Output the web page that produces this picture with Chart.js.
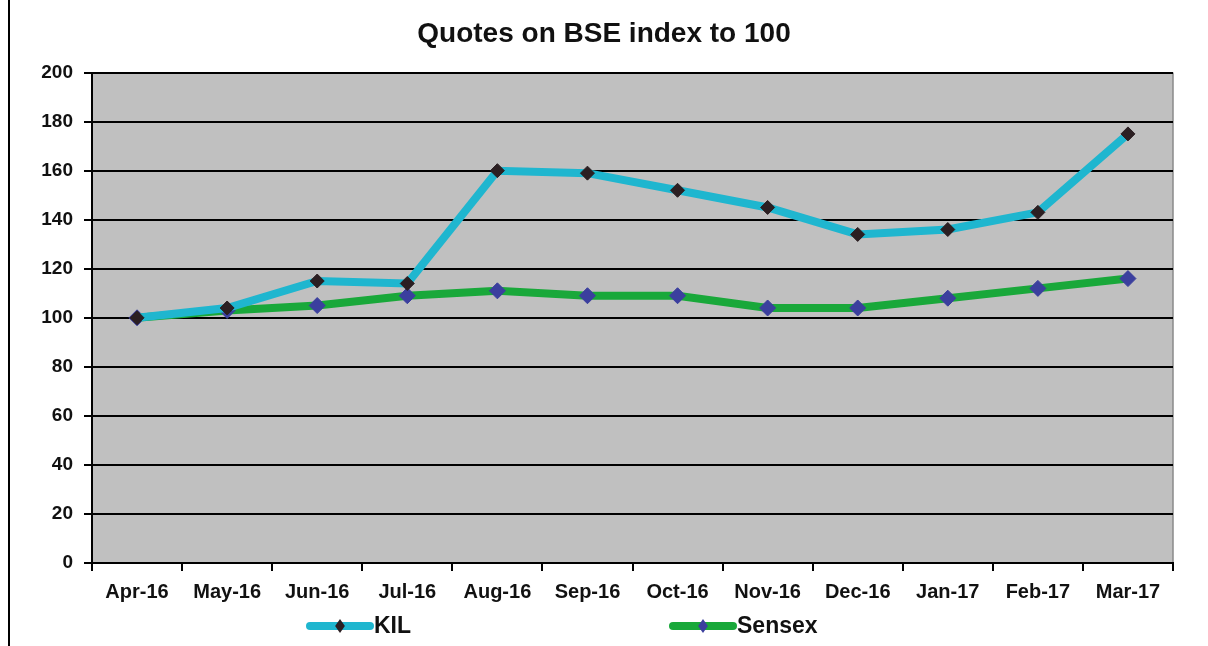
<!DOCTYPE html>
<html>
<head>
<meta charset="utf-8">
<script src="https://cdn.jsdelivr.net/npm/chart.js@4"></script>
<style>
  html, body { margin: 0; padding: 0; background: #fff; }
  #wrap { width: 1208px; height: 646px; position: relative; }
</style>
</head>
<body>
<div id="wrap"><canvas id="quotes"></canvas></div>
<script>
const months = ["Apr-16", "May-16", "Jun-16", "Jul-16", "Aug-16", "Sep-16", "Oct-16", "Nov-16", "Dec-16", "Jan-17", "Feb-17", "Mar-17"];
const dataKIL = [100, 104, 115, 114, 160, 159, 152, 145, 134, 136, 143, 175];
const dataSensex = [100, 103, 105, 109, 111, 109, 109, 104, 104, 108, 112, 116];

const FONT = "'Liberation Sans', Arial, sans-serif";
const cyan = "#1fb6cf";
const green = "#19a83a";

// grey plot area with a thin border on the right
const plotBg = {
  id: "plotBg",
  beforeDraw(chart) {
    const { ctx, chartArea: a } = chart;
    ctx.save();
    ctx.fillStyle = "#c0c0c0";
    ctx.fillRect(a.left, a.top, a.right - a.left, a.bottom - a.top);
    ctx.strokeStyle = "#8a8a8a";
    ctx.lineWidth = 1.5;
    ctx.beginPath();
    ctx.moveTo(a.right, a.top);
    ctx.lineTo(a.right, a.bottom);
    ctx.stroke();
    ctx.restore();
  },
  afterDraw(chart) {
    const ctx = chart.ctx;
    ctx.save();
    ctx.strokeStyle = "#000";
    ctx.lineWidth = 2;
    ctx.beginPath();
    ctx.moveTo(9, 0);
    ctx.lineTo(9, chart.height);
    ctx.stroke();
    ctx.restore();
  }
};

// legend like the excel one: thick line with marker in the middle
const lineLegend = {
  id: "lineLegend",
  afterDraw(chart) {
    const ctx = chart.ctx;
    const y = 626;
    const items = [
      { ds: chart.data.datasets[0], x: 310 },
      { ds: chart.data.datasets[1], x: 673 }
    ];
    ctx.save();
    items.forEach(it => {
      const ds = it.ds;
      ctx.strokeStyle = ds.borderColor;
      ctx.lineWidth = 8;
      ctx.lineCap = "round";
      ctx.beginPath();
      ctx.moveTo(it.x, y);
      ctx.lineTo(it.x + 60, y);
      ctx.stroke();
      const cx = it.x + 30, r = 7;
      ctx.fillStyle = ds.pointBackgroundColor;
      ctx.beginPath();
      ctx.moveTo(cx, y - r);
      ctx.lineTo(cx + r * 0.7, y);
      ctx.lineTo(cx, y + r);
      ctx.lineTo(cx - r * 0.7, y);
      ctx.closePath();
      ctx.fill();
      ctx.fillStyle = "#111";
      ctx.font = "bold 23px " + FONT;
      ctx.textBaseline = "middle";
      ctx.fillText(ds.label, it.x + 64, y + 1);
    });
    ctx.restore();
  }
};

new Chart(document.getElementById("quotes"), {
  type: "line",
  data: {
    labels: months,
    datasets: [
      {
        label: "KIL",
        data: dataKIL,
        borderColor: cyan,
        borderWidth: 8,
        pointStyle: "rectRot",
        pointRadius: 7,
        pointBackgroundColor: "#2b1f22",
        pointBorderColor: "#2b1f22",
        pointBorderWidth: 1,
        tension: 0
      },
      {
        label: "Sensex",
        data: dataSensex,
        borderColor: green,
        borderWidth: 8,
        pointStyle: "rectRot",
        pointRadius: 8,
        pointBackgroundColor: "#3b3f9e",
        pointBorderColor: "#3b3f9e",
        pointBorderWidth: 1,
        tension: 0
      }
    ]
  },
  options: {
    responsive: true,
    maintainAspectRatio: false,
    animation: false,
    layout: { padding: { left: 0, right: 0, top: 0, bottom: 38 } },
    plugins: {
      legend: { display: false },
      tooltip: { enabled: false },
      title: {
        display: true,
        text: "Quotes on BSE index to 100",
        color: "#111",
        font: { family: FONT, size: 28, weight: "bold" },
        padding: { top: 17, bottom: 22 }
      }
    },
    scales: {
      x: {
        offset: true,
        grid: {
          offset: true,
          drawOnChartArea: false,
          drawTicks: true,
          tickLength: 8,
          color: "#000",
          lineWidth: 2
        },
        border: { display: true, color: "#000", width: 2 },
        ticks: {
          color: "#111",
          padding: 9,
          maxRotation: 0,
          autoSkip: false,
          font: { family: FONT, size: 20, weight: "bold" }
        },
        afterFit(scale) { scale.height = 45; }
      },
      y: {
        min: 0,
        max: 200,
        ticks: {
          stepSize: 20,
          color: "#111",
          padding: 11,
          font: { family: FONT, size: 19, weight: "bold" }
        },
        grid: {
          color: "#000",
          lineWidth: 2,
          tickLength: 8
        },
        border: { display: true, color: "#000", width: 2 },
        afterFit(scale) { scale.width = 92; }
      },
      // empty right-hand margin so the title stays centred on the page
      yRight: {
        position: "right",
        min: 0,
        max: 200,
        grid: { display: false },
        ticks: { display: false },
        border: { display: false },
        afterFit(scale) { scale.width = 35; }
      }
    }
  },
  plugins: [plotBg, lineLegend]
});
</script>
</body>
</html>
